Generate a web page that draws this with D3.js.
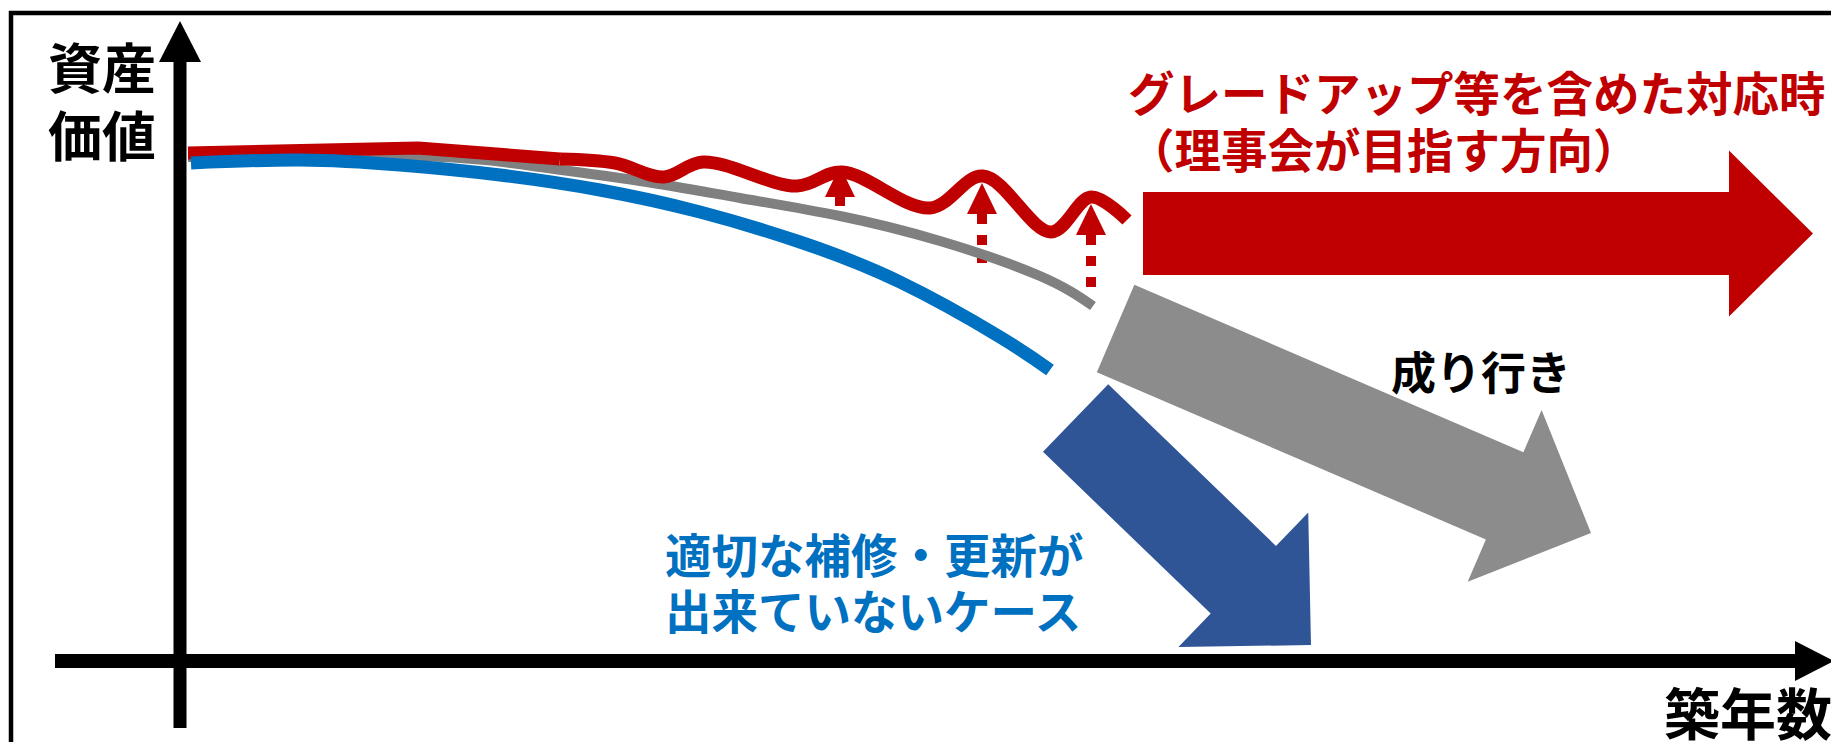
<!DOCTYPE html>
<html>
<head>
<meta charset="utf-8">
<script src="https://cdn.jsdelivr.net/npm/d3@7"></script>
<style>
  html, body { margin: 0; padding: 0; background: #ffffff; }
  svg text { font-family: "Noto Sans CJK JP", "Noto Sans", sans-serif; font-weight: 700; }
</style>
</head>
<body>
<div id="chart"></div>
<script>
// asset value vs building age (concept diagram)

// curves: x = 築年数 (arbitrary units), y = 資産価値 (arbitrary units)
const redYears   = [0.4, 11.9, 19, 21.75, 24.2, 26.15, 30.85, 33.1, 37.5, 40.15, 43.55, 45.55, 47.35];
const redValues  = [101.6, 102.6, 100.4, 99.6, 96.8, 99.8, 95, 97.8, 90.6, 97, 85.8, 92.8, 88.2];
const grayYears  = [0.4, 11.9, 18, 23, 28, 33, 38, 43, 45.65];
const grayValues = [100.8, 101, 98.8, 96, 92.6, 89, 84, 77, 71];
const blueYears  = [0.55, 6, 11, 16, 21, 26, 31, 36, 41, 43.5];
const blueValues = [99.6, 100.2, 99.2, 97.2, 94.2, 89.8, 83.8, 75.8, 64.8, 58.2];

// dotted "lift" arrows from the as-is curve up to the upgrade curve
const liftYears = [33, 40.1, 45.55];
const liftFrom  = [91, 79.6, 73.8];
const liftTo    = [99, 95.6, 91.4];

// big trend arrows [year, value]
const trendNames = ["upgrade", "asIs", "neglect"];
const trendStart = [[48.15, 85.5], [46.78, 66.5], [44.78, 48.6]];
const trendEnd   = [[81.65, 85.5], [70.55, 25.6], [56.55, 3.2]];

// labels
const yLabel = ["資産", "価値"];
const xLabel = "築年数";
const upgradeLabel = ["グレードアップ等を含めた対応時", "（理事会が目指す方向）"];
const asIsLabel = "成り行き";
const neglectLabel = ["適切な補修・更新が", "出来ていないケース"];

(function() {
    const width = 1831;
    const height = 742;

    const svg = d3.select("#chart")
        .append("svg")
        .attr("width", width)
        .attr("height", height);

    const x = d3.scaleLinear().domain([0, 80]).range([180, 1780]);
    const y = d3.scaleLinear().domain([0, 100]).range([661, 161]);

    // frame
    svg.append("rect")
        .attr("x", 11).attr("y", 13)
        .attr("width", 1900).attr("height", 900)
        .attr("fill", "none")
        .attr("stroke", "#000")
        .attr("stroke-width", 4.5);

    // block arrow helper
    function blockArrow(p0, p1, shaftW, headW, headL) {
        const dx = p1[0] - p0[0], dy = p1[1] - p0[1];
        const len = Math.hypot(dx, dy);
        const ux = dx / len, uy = dy / len;
        const nx = -uy, ny = ux;
        const bx = p1[0] - ux * headL, by = p1[1] - uy * headL;
        const a = shaftW / 2, b = headW / 2;
        return [
            [p0[0] + nx * a, p0[1] + ny * a],
            [bx + nx * a, by + ny * a],
            [bx + nx * b, by + ny * b],
            p1,
            [bx - nx * b, by - ny * b],
            [bx - nx * a, by - ny * a],
            [p0[0] - nx * a, p0[1] - ny * a]
        ];
    }

    const trendStyle = {
        upgrade: { fill: "#C00000", shaft: 83, head: 166, headL: 84 },
        asIs:    { fill: "#8C8C8C", shaft: 95, head: 187, headL: 94 },
        neglect: { fill: "#2F5597", shaft: 94, head: 187, headL: 94 }
    };

    svg.append("g").selectAll("polygon")
        .data(trendNames)
        .join("polygon")
        .attr("points", (d, i) => {
            const s = trendStyle[d];
            const p0 = [x(trendStart[i][0]), y(trendStart[i][1])];
            const p1 = [x(trendEnd[i][0]), y(trendEnd[i][1])];
            return blockArrow(p0, p1, s.shaft, s.head, s.headL).map(p => p.join(",")).join(" ");
        })
        .attr("fill", d => trendStyle[d].fill);

    // dotted lift arrows
    const liftG = svg.append("g");
    const headL = 31, headW = 30;
    liftYears.forEach((yr, i) => {
        const cx = x(yr);
        const tip = y(liftTo[i]);
        liftG.append("line")
            .attr("x1", cx).attr("x2", cx)
            .attr("y1", tip + headL).attr("y2", y(liftFrom[i]))
            .attr("stroke", "#C00000")
            .attr("stroke-width", 10)
            .attr("stroke-dasharray", "10,11");
        liftG.append("polygon")
            .attr("points", [[cx, tip], [cx + headW / 2, tip + headL], [cx - headW / 2, tip + headL]].map(p => p.join(",")).join(" "))
            .attr("fill", "#C00000");
    });

    // curves
    const lineWave = d3.line()
        .x(d => x(d[0])).y(d => y(d[1]))
        .curve(d3.curveCatmullRom.alpha(0.5));
    const lineSmooth = d3.line()
        .x(d => x(d[0])).y(d => y(d[1]))
        .curve(d3.curveNatural);
    const lineLin = d3.line()
        .x(d => x(d[0])).y(d => y(d[1]));

    const grayPts = grayYears.map((v, i) => [v, grayValues[i]]);
    const bluePts = blueYears.map((v, i) => [v, blueValues[i]]);
    const redPts = redYears.map((v, i) => [v, redValues[i]]);

    svg.append("path")
        .attr("d", lineSmooth(grayPts))
        .attr("fill", "none")
        .attr("stroke", "#808080")
        .attr("stroke-width", 10);

    svg.append("path")
        .attr("d", lineLin(redPts.slice(0, 3)))
        .attr("fill", "none")
        .attr("stroke", "#C00000")
        .attr("stroke-width", 13)
        .attr("stroke-linejoin", "round");
    svg.append("path")
        .attr("d", lineWave(redPts.slice(2)))
        .attr("fill", "none")
        .attr("stroke", "#C00000")
        .attr("stroke-width", 13)
        .attr("stroke-linejoin", "round");

    svg.append("path")
        .attr("d", lineSmooth(bluePts))
        .attr("fill", "none")
        .attr("stroke", "#0070C0")
        .attr("stroke-width", 13);

    // axes (arrows)
    const x0 = x(0), y0 = y(0);
    svg.append("line")
        .attr("x1", x0).attr("x2", x0)
        .attr("y1", y0 + 67).attr("y2", 60)
        .attr("stroke", "#000").attr("stroke-width", 13);
    svg.append("polygon")
        .attr("points", [[x0, 21], [x0 + 21, 62], [x0 - 21, 62]].map(p => p.join(",")).join(" "))
        .attr("fill", "#000");

    svg.append("line")
        .attr("x1", x0 - 125).attr("x2", 1797)
        .attr("y1", y0).attr("y2", y0)
        .attr("stroke", "#000").attr("stroke-width", 14);
    svg.append("polygon")
        .attr("points", [[1795, y0 - 20], [1834, y0], [1795, y0 + 20]].map(p => p.join(",")).join(" "))
        .attr("fill", "#000");

    // labels
    const txt = svg.append("g").attr("dominant-baseline", "central");

    yLabel.forEach((t, i) => {
        txt.append("text")
            .attr("x", 48).attr("y", 65 + i * 68)
            .attr("font-size", 54)
            .attr("fill", "#000")
            .text(t);
    });

    txt.append("text")
        .attr("x", 1664).attr("y", 710)
        .attr("font-size", 56)
        .attr("fill", "#000")
        .text(xLabel);

    upgradeLabel.forEach((t, i) => {
        txt.append("text")
            .attr("x", 1128).attr("y", 90 + i * 57)
            .attr("font-size", 46.5)
            .attr("fill", "#C00000")
            .text(t);
    });

    txt.append("text")
        .attr("x", 1391).attr("y", 370)
        .attr("font-size", 45)
        .attr("fill", "#000")
        .text(asIsLabel);

    neglectLabel.forEach((t, i) => {
        txt.append("text")
            .attr("x", 665).attr("y", 552 + i * 56)
            .attr("font-size", 46.5)
            .attr("fill", "#0070C0")
            .text(t);
    });
})();
</script>
</body>
</html>
